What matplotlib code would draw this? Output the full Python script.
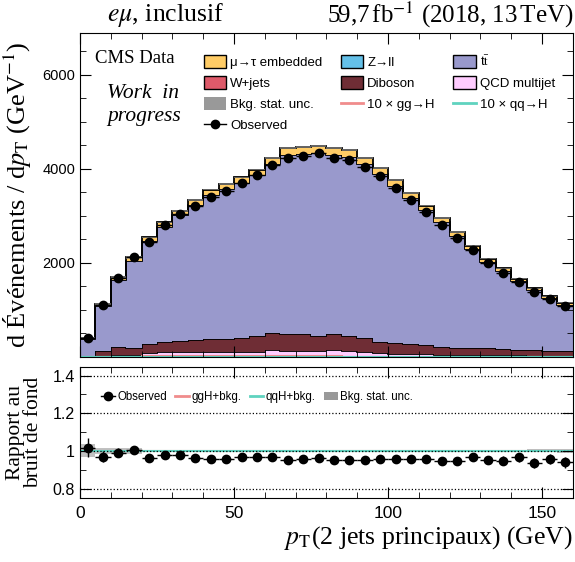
import numpy as np
import matplotlib
matplotlib.use("Agg")
import matplotlib.pyplot as plt
from matplotlib.patches import Patch
from matplotlib.lines import Line2D
from matplotlib.ticker import MultipleLocator, FuncFormatter

plt.rcParams['mathtext.fontset'] = 'stix'
plt.rcParams['font.family'] = ['Liberation Sans', 'DejaVu Sans']
SERIF = "Liberation Serif"

# binning: 32 bins of 5 GeV
edges = np.arange(0, 165, 5)

# background components (events per bin)
zll = [2, 4, 5, 6, 7, 8, 8, 8, 8, 8, 9, 9, 9, 9, 9, 9, 9, 8, 8, 8, 7, 7, 6, 6, 5, 5, 5, 4, 4, 4, 3, 3]
wjets = [3, 6, 8, 10, 12, 13, 14, 15, 15, 15, 16, 16, 17, 17, 17, 17, 16, 16, 15, 15, 14, 13, 12, 11, 10, 10, 9, 8, 8, 7, 7, 6]
qcd = [5, 15, 25, 35, 70, 75, 75, 80, 80, 80, 80, 80, 120, 100, 95, 95, 125, 95, 85, 60, 45, 40, 35, 30, 30, 25, 20, 20, 20, 20, 15, 15]
diboson = [20, 106, 170, 150, 197, 225, 245, 260, 274, 274, 293, 335, 358, 357, 369, 327, 333, 329, 305, 245, 234, 219, 212, 175, 156, 161, 152, 141, 127, 121, 106, 107]
ttbar = [356, 956, 1432, 1850, 2177, 2453, 2672, 2878, 3074, 3193, 3300, 3421, 3590, 3805, 3827, 3892, 3814, 3806, 3689, 3568, 3341, 3099, 2856, 2646, 2379, 2089, 1835, 1653, 1448, 1264, 1120, 982]
embedded = [20, 45, 60, 70, 80, 90, 95, 100, 110, 115, 120, 125, 135, 150, 150, 150, 145, 140, 135, 125, 115, 105, 100, 90, 80, 75, 70, 60, 55, 50, 45, 40]
bkg_unc = [14, 18, 27, 34, 15, 16, 17, 18, 19, 19, 20, 20, 21, 22, 22, 22, 22, 22, 21, 20, 19, 18, 17, 16, 15, 14, 13, 12, 12, 11, 10, 10]

# signals (unscaled)
ggh = [0.3, 0.6, 0.8, 1.0, 1.1, 1.2, 1.3, 1.3, 1.3, 1.3, 1.3, 1.3, 1.2, 1.2, 1.2, 1.1, 1.1, 1.0, 1.0, 0.9, 0.9, 0.8, 0.8, 0.7, 0.7, 0.6, 0.6, 0.5, 0.5, 0.5, 0.4, 0.4]
qqh = [0.1, 0.2, 0.3, 0.3, 0.4, 0.4, 0.4, 0.5, 0.5, 0.5, 0.5, 0.5, 0.5, 0.5, 0.5, 0.5, 0.5, 0.5, 0.5, 0.5, 0.5, 0.4, 0.4, 0.4, 0.4, 0.4, 0.4, 0.3, 0.3, 0.3, 0.3, 0.3]

observed = [413, 1097, 1683, 2127, 2451, 2804, 3044, 3221, 3411, 3530, 3700, 3862, 4081, 4229, 4279, 4328, 4229, 4187, 4038, 3848, 3594, 3333, 3086, 2804, 2522, 2282, 1993, 1788, 1604, 1372, 1238, 1083]

stack = [
    ("Z→ll", zll, "#64c0e8"),
    ("W+jets", wjets, "#de5a6a"),
    ("QCD multijet", qcd, "#ffccff"),
    ("Diboson", diboson, "#6f2d35"),
    (r"t$\bar{\rm t}$", ttbar, "#9999cc"),
    ("μ→τ embedded", embedded, "#ffcc66"),
]
c_gg = "#f08c8c"
c_qq = "#5fd3bf"
c_unc = "#999999"

centers = 0.5 * (edges[:-1] + edges[1:])
obs = np.array(observed, float)

fig = plt.figure(figsize=(5.75, 5.62), dpi=100)
ax = fig.add_axes([0.139, 0.3648, 0.857, 0.5765])
ax2 = fig.add_axes([0.139, 0.1139, 0.857, 0.233])

bottom = np.zeros(len(centers))
for name, vals, col in stack:
    v = np.array(vals, float)
    ax.stairs(bottom + v, edges, baseline=bottom, fill=True, color=col, lw=0)
    ax.stairs(bottom + v, edges, baseline=None, color="black", lw=1.3)
    bottom = bottom + v
total = bottom
unc = np.array(bkg_unc, float)

ax.stairs(total + unc, edges, baseline=total - unc, fill=True, color=c_unc, alpha=0.6, lw=0)
ax.stairs(10 * np.array(ggh), edges, baseline=None, color=c_gg, lw=1.5)
ax.stairs(10 * np.array(qqh), edges, baseline=None, color=c_qq, lw=1.5)
ax.errorbar(centers, obs, yerr=np.sqrt(obs), xerr=2.5, fmt="o", color="black",
            ms=6, lw=1.0, capsize=0, zorder=5)

ax.set_xlim(0, 160)
ax.set_ylim(0, 6890)
ax.xaxis.set_major_locator(MultipleLocator(50))
ax.xaxis.set_minor_locator(MultipleLocator(10))
ax.yaxis.set_minor_locator(MultipleLocator(500))
ax.set_yticks([2000, 4000, 6000])
ax.tick_params(which="both", direction="in", top=True, right=True, labelsize=10.5)
ax.tick_params(which="major", length=8)
ax.tick_params(which="minor", length=4)
ax.tick_params(axis="x", labelbottom=False)
ax.set_ylabel(r"d Événements / d$p_{\mathrm{T}}$ (GeV$^{-1}$)", family=SERIF, fontsize=19)
ax.yaxis.set_label_coords(-0.093, 0.5)

ax.text(0.03, 0.92, "CMS Data", transform=ax.transAxes, family=SERIF,
        fontsize=13.5, va="center", ha="left")
ax.text(0.055, 0.778, "Work  in\nprogress", transform=ax.transAxes, family=SERIF,
        style="italic", fontsize=15.5, va="center", ha="left", linespacing=1.3)

fig.text(0.186, 0.974, r"$e\mu$, inclusif", family=SERIF, fontsize=18.5,
         va="center", ha="left")
fig.text(0.997, 0.974, r"59,7$\,$fb$^{-1}$ (2018, 13$\,$TeV)", family=SERIF,
         fontsize=18, va="center", ha="right")

h = {}
for name, vals, col in stack:
    h[name] = Patch(facecolor=col, edgecolor="black", lw=1.0)
h_unc = Patch(facecolor=c_unc, edgecolor="none")
h_gg = Line2D([], [], color=c_gg, lw=2)
h_qq = Line2D([], [], color=c_qq, lw=2)
h_obs = Line2D([], [], color="black", marker="o", ms=6, lw=1.0)
handles = [h["μ→τ embedded"], h["W+jets"], h_unc, h_obs,
           h["Z→ll"], h["Diboson"], h_gg,
           h[r"t$\bar{\rm t}$"], h["QCD multijet"], h_qq]
labels = ["μ→τ embedded", "W+jets", "Bkg. stat. unc.", "Observed",
          "Z→ll", "Diboson", "10 × gg→H",
          r"t$\bar{\rm t}$", "QCD multijet", "10 × qq→H"]
ax.legend(handles, labels, ncol=3, loc="upper left", bbox_to_anchor=(0.238, 0.955),
          frameon=False, fontsize=9.5, borderpad=0, handlelength=1.7, handleheight=1.15,
          labelspacing=0.55, handletextpad=0.3, columnspacing=1.4)

# ratio panel
ratio = obs / total
ax2.stairs(1 + unc / total, edges, baseline=1 - unc / total, fill=True, color=c_unc, alpha=0.6, lw=0)
ax2.stairs((total + np.array(ggh)) / total, edges, baseline=None, color=c_gg, lw=1.5)
ax2.stairs((total + np.array(qqh)) / total, edges, baseline=None, color=c_qq, lw=1.5)
ax2.errorbar(centers, ratio, yerr=np.sqrt(obs) / total, xerr=2.5, fmt="o", color="black",
             ms=6, lw=1.0, capsize=0, zorder=5)
ax2.set_xlim(0, 160)
ax2.set_ylim(0.75, 1.445)
ax2.set_yticks([0.8, 1.0, 1.2, 1.4])
ax2.yaxis.set_minor_locator(MultipleLocator(0.1))
ax2.xaxis.set_major_locator(MultipleLocator(50))
ax2.xaxis.set_minor_locator(MultipleLocator(10))
ax2.yaxis.set_major_formatter(FuncFormatter(lambda v, p: "%g" % round(v, 2)))
ax2.yaxis.grid(True, which="major", ls=":", color="black", lw=0.9)
ax2.tick_params(which="both", direction="in", top=True, right=True)
ax2.tick_params(axis="y", labelsize=11.5)
ax2.tick_params(axis="x", labelsize=12.5, pad=6)
ax2.tick_params(which="major", length=8)
ax2.tick_params(which="minor", length=4)
ax2.set_ylabel("Rapport au\nbruit de fond", family=SERIF, fontsize=15.5, linespacing=0.9)
ax2.yaxis.set_label_coords(-0.075, 0.5)
ax2.set_xlabel(r"$p_{\mathrm{T}}$(2 jets principaux) (GeV)", family=SERIF,
               fontsize=18.5, loc="right", labelpad=2)

h_unc2 = Patch(facecolor=c_unc, edgecolor="none")
ax2.legend([h_obs, h_gg, h_qq, h_unc2], ["Observed", "ggH+bkg.", "qqH+bkg.", "Bkg. stat. unc."],
           ncol=4, loc="upper left", bbox_to_anchor=(0.032, 0.86), frameon=False,
           fontsize=8.3, borderpad=0, handlelength=1.2, handletextpad=0.2, columnspacing=0.7)

fig.savefig("out.png", dpi=100)
